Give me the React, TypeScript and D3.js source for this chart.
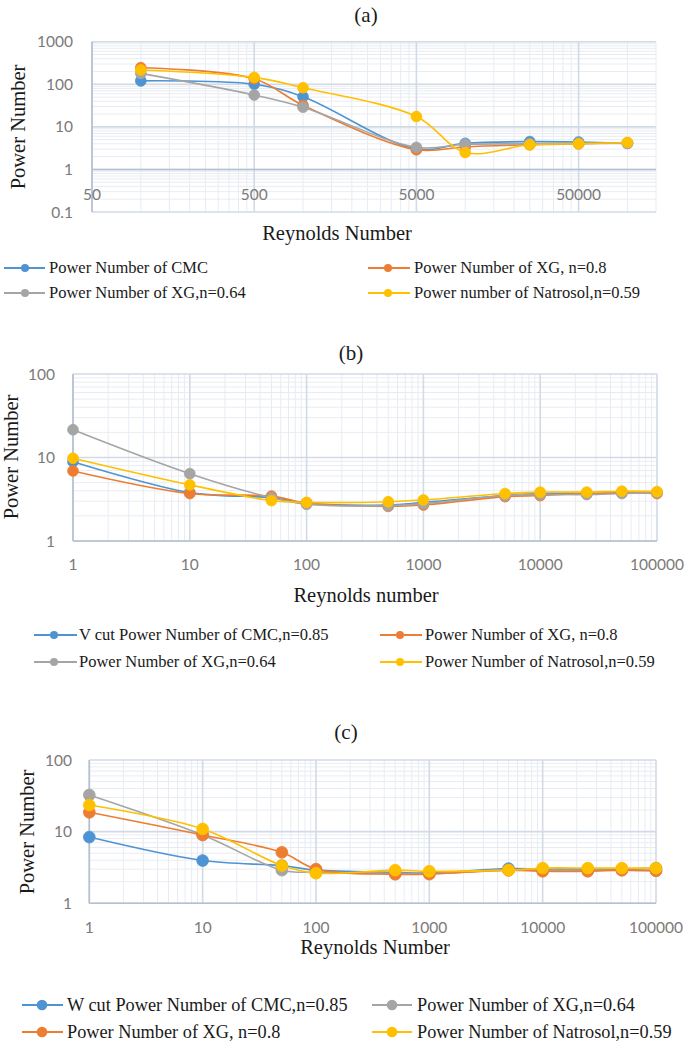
import React from 'react';
import * as d3 from 'd3';

// ---------- DATA ----------
const reA = [100, 500, 1000, 5000, 10000, 25000, 50000, 100000];
const aCMC = [120, 100, 51, 3.0, 4.1, 4.5, 4.4, 4.1];
const aXG08 = [245, 135, 32, 2.9, 3.4, 3.8, 4.0, 4.2];
const aXG064 = [180, 56, 29, 3.3, 3.9, 4.0, 4.1, 4.1];
const aNat = [217, 145, 83, 17.5, 2.5, 3.8, 4.0, 4.3];

const reBC = [1, 10, 50, 100, 500, 1000, 5000, 10000, 25000, 50000, 100000];
const bCMC = [8.9, 3.8, 3.3, 2.85, 2.7, 2.9, 3.5, 3.7, 3.7, 3.8, 3.8];
const bXG08 = [6.9, 3.7, 3.45, 2.85, 2.6, 2.7, 3.4, 3.5, 3.7, 3.8, 3.7];
const bXG064 = [21.5, 6.4, 3.3, 2.75, 2.65, 2.8, 3.5, 3.6, 3.6, 3.7, 3.8];
const bNat = [9.8, 4.7, 3.05, 2.9, 2.95, 3.1, 3.7, 3.85, 3.85, 3.95, 3.9];

const cCMC = [8.4, 3.95, 3.35, 2.9, 2.7, 2.65, 3.05, 3.0, 3.0, 3.0, 3.1];
const cXG064 = [32.5, 9.0, 2.9, 2.7, 2.6, 2.6, 2.9, 2.9, 2.9, 2.9, 2.85];
const cXG08 = [18.6, 9.0, 5.15, 3.0, 2.54, 2.55, 2.9, 2.8, 2.8, 2.9, 2.85];
const cNat = [23.5, 10.9, 3.36, 2.63, 2.9, 2.8, 2.9, 3.1, 3.1, 3.1, 3.1];

const labelsA = ['Power Number of CMC', 'Power Number of XG, n=0.8', 'Power Number of XG,n=0.64', 'Power number of Natrosol,n=0.59'];
const labelsB = ['V cut Power Number of CMC,n=0.85', 'Power Number of XG, n=0.8', 'Power Number of XG,n=0.64', 'Power Number of Natrosol,n=0.59'];
const labelsC = ['W cut Power Number of CMC,n=0.85', 'Power Number of XG,n=0.64', 'Power Number of XG, n=0.8', 'Power Number of Natrosol,n=0.59'];

const xTicksA = [50, 500, 5000, 50000];
const xTicksBC = [1, 10, 100, 1000, 10000, 100000];
const yTicksA = [0.1, 1, 10, 100, 1000];
const yTicksBC = [1, 10, 100];

const BLUE = '#4f94d2';
const ORANGE = '#ED7D31';
const GRAY = '#A5A5A5';
const YELLOW = '#FFC000';

// ---------- LAYOUT ----------
type Series = { name: string; values: number[]; color: string };
type LegendItem = { series: Series; col: number; row: number };
type PanelCfg = {
  title: string; titleX: number; titleY: number;
  x0: number; x1: number; y0: number; y1: number;
  xDomain: [number, number]; yDomain: [number, number];
  xs: number[]; series: Series[];
  xTicks: number[]; yTicks: number[];
  xMinorBase: number; xMinorMax: number;
  axisY: number;
  xLabelY: number; yLabelX: number;
  xTitle: string; xTitleX: number; xTitleY: number;
  yTitleX: number; yTitleY: number;
  dotR: number;
  legendRows: number[]; legendCols: { line0: number; line1: number; dot: number; text: number }[];
  legendFont: number; legendDotR: number; legendLineW: number;
  legend: LegendItem[];
};

const mk = (names: string[], vals: number[][], colors: string[]): Series[] =>
  names.map((n, i) => ({ name: n, values: vals[i], color: colors[i] }));

const sA = mk(labelsA, [aCMC, aXG08, aXG064, aNat], [BLUE, ORANGE, GRAY, YELLOW]);
const sB = mk(labelsB, [bCMC, bXG08, bXG064, bNat], [BLUE, ORANGE, GRAY, YELLOW]);
const sC = mk(labelsC, [cCMC, cXG064, cXG08, cNat], [BLUE, GRAY, ORANGE, YELLOW]);

const panels: PanelCfg[] = [
  {
    title: '(a)', titleX: 366, titleY: 22,
    x0: 92, x1: 656, y0: 41.7, y1: 212,
    xDomain: [50, 150000], yDomain: [0.1, 1000],
    xs: reA, series: sA, xTicks: xTicksA, yTicks: yTicksA,
    xMinorBase: 50, xMinorMax: 150000,
    axisY: 1, xLabelY: 200, yLabelX: 73,
    xTitle: 'Reynolds Number', xTitleX: 337, xTitleY: 240,
    yTitleX: 25, yTitleY: 127,
    dotR: 5.4,
    legendRows: [268, 293],
    legendCols: [{ line0: 4, line1: 45, dot: 25, text: 49 }, { line0: 368, line1: 410, dot: 388, text: 414 }],
    legendFont: 16.5, legendDotR: 4, legendLineW: 1.8,
    legend: [
      { series: sA[0], col: 0, row: 0 }, { series: sA[1], col: 1, row: 0 },
      { series: sA[2], col: 0, row: 1 }, { series: sA[3], col: 1, row: 1 },
    ],
  },
  {
    title: '(b)', titleX: 351, titleY: 360,
    x0: 73, x1: 657, y0: 374, y1: 541,
    xDomain: [1, 100000], yDomain: [1, 100],
    xs: reBC, series: sB, xTicks: xTicksBC, yTicks: yTicksBC,
    xMinorBase: 1, xMinorMax: 100000,
    axisY: 1, xLabelY: 570, yLabelX: 55,
    xTitle: 'Reynolds number', xTitleX: 366, xTitleY: 602,
    yTitleX: 18, yTitleY: 457,
    dotR: 5.4,
    legendRows: [635, 662],
    legendCols: [{ line0: 34, line1: 77, dot: 54, text: 79 }, { line0: 380, line1: 422, dot: 400, text: 425 }],
    legendFont: 16.5, legendDotR: 4, legendLineW: 1.8,
    legend: [
      { series: sB[0], col: 0, row: 0 }, { series: sB[1], col: 1, row: 0 },
      { series: sB[2], col: 0, row: 1 }, { series: sB[3], col: 1, row: 1 },
    ],
  },
  {
    title: '(c)', titleX: 346, titleY: 739,
    x0: 89.3, x1: 656, y0: 760, y1: 903.3,
    xDomain: [1, 100000], yDomain: [1, 100],
    xs: reBC, series: sC, xTicks: xTicksBC, yTicks: yTicksBC,
    xMinorBase: 1, xMinorMax: 100000,
    axisY: 1, xLabelY: 933, yLabelX: 72,
    xTitle: 'Reynolds Number', xTitleX: 375, xTitleY: 954,
    yTitleX: 34, yTitleY: 832,
    dotR: 5.9,
    legendRows: [1005, 1032],
    legendCols: [{ line0: 22, line1: 63, dot: 42, text: 67 }, { line0: 372, line1: 412, dot: 392, text: 417 }],
    legendFont: 18.3, legendDotR: 5.3, legendLineW: 2.1,
    legend: [
      { series: sC[0], col: 0, row: 0 }, { series: sC[1], col: 1, row: 0 },
      { series: sC[2], col: 0, row: 1 }, { series: sC[3], col: 1, row: 1 },
    ],
  },
];

const SERIF = '"Liberation Serif", "Times New Roman", serif';
const SANS = 'Lato, "Liberation Sans", sans-serif';
const MAJOR = '#d2dae5';
const MINOR = '#e8ecf2';
const AXIS = '#b3c0d1';

function minorValues(base: number, max: number): number[] {
  const out: number[] = [];
  for (let b = base; b < max; b *= 10) {
    for (let k = 2; k <= 9; k++) {
      const v = b * k;
      if (v <= max * 1.0001) out.push(v);
    }
  }
  return out;
}

function Panel({ p }: { p: PanelCfg }) {
  const x = d3.scaleLog().domain(p.xDomain).range([p.x0, p.x1]);
  const y = d3.scaleLog().domain(p.yDomain).range([p.y1, p.y0]);
  const xMin = minorValues(p.xMinorBase, p.xMinorMax);
  const yMin = minorValues(p.yDomain[0], p.yDomain[1]);
  const line = d3.line<number>()
    .x((_, i) => x(p.xs[i]))
    .y((v) => y(v))
    .curve(d3.curveCatmullRom.alpha(0.5));
  const fmt = (v: number) => String(v);
  return (
    <g>
      <text x={p.titleX} y={p.titleY} textAnchor="middle" fontFamily={SERIF} fontSize={21} fill="#1a1a1a">{p.title}</text>
      {yMin.map((v, i) => (
        <line key={'ym' + i} x1={p.x0} x2={p.x1} y1={y(v)} y2={y(v)} stroke={MINOR} strokeWidth={1} />
      ))}
      {xMin.map((v, i) => (
        <line key={'xm' + i} x1={x(v)} x2={x(v)} y1={p.y0} y2={p.y1} stroke={MINOR} strokeWidth={1} />
      ))}
      {p.yTicks.map((v, i) => (
        <line key={'yM' + i} x1={p.x0} x2={p.x1} y1={y(v)} y2={y(v)} stroke={MAJOR} strokeWidth={1.6} />
      ))}
      {p.xTicks.map((v, i) => (
        <line key={'xM' + i} x1={x(v)} x2={x(v)} y1={p.y0} y2={p.y1} stroke={MAJOR} strokeWidth={1.6} />
      ))}
      <line x1={p.x0} x2={p.x0} y1={p.y0} y2={p.y1} stroke={AXIS} strokeWidth={1.6} />
      <line x1={p.x0} x2={p.x1} y1={y(p.axisY)} y2={y(p.axisY)} stroke={AXIS} strokeWidth={1.6} />
      {p.yTicks.map((v, i) => (
        <text key={'yl' + i} x={p.yLabelX} y={y(v) + 5.5} textAnchor="end" fontFamily={SANS} fontSize={15.5} fill="#7a7a7a">{fmt(v)}</text>
      ))}
      {p.xTicks.map((v, i) => (
        <text key={'xl' + i} x={x(v)} y={p.xLabelY} textAnchor="middle" fontFamily={SANS} fontSize={15.5} fill="#7a7a7a">{fmt(v)}</text>
      ))}
      <text x={p.xTitleX} y={p.xTitleY} textAnchor="middle" fontFamily={SERIF} fontSize={20.5} fill="#1a1a1a">{p.xTitle}</text>
      <text transform={`translate(${p.yTitleX},${p.yTitleY}) rotate(-90)`} textAnchor="middle" fontFamily={SERIF} fontSize={20.5} fill="#1a1a1a">Power Number</text>
      {p.series.map((s, si) => (
        <g key={'s' + si}>
          <path d={line(s.values) || ''} fill="none" stroke={s.color} strokeWidth={1.6} />
          {s.values.map((v, i) => (
            <circle key={i} cx={x(p.xs[i])} cy={y(v)} r={p.dotR} fill={s.color} stroke={s.color} strokeWidth={0.8} />
          ))}
        </g>
      ))}
      {p.legend.map((it, i) => {
        const c = p.legendCols[it.col];
        const ry = p.legendRows[it.row];
        return (
          <g key={'lg' + i}>
            <line x1={c.line0} x2={c.line1} y1={ry} y2={ry} stroke={it.series.color} strokeWidth={p.legendLineW} />
            <circle cx={c.dot} cy={ry} r={p.legendDotR} fill={it.series.color} />
            <text x={c.text} y={ry + p.legendFont * 0.33} fontFamily={SERIF} fontSize={p.legendFont} fill="#1a1a1a">{it.series.name}</text>
          </g>
        );
      })}
    </g>
  );
}

export default function App() {
  return (
    <svg width={685} height={1042} style={{ position: 'absolute', left: 0, top: 0, background: '#fff' }}>
      <rect x={0} y={0} width={685} height={1042} fill="#fff" />
      {panels.map((p, i) => <Panel key={i} p={p} />)}
    </svg>
  );
}
